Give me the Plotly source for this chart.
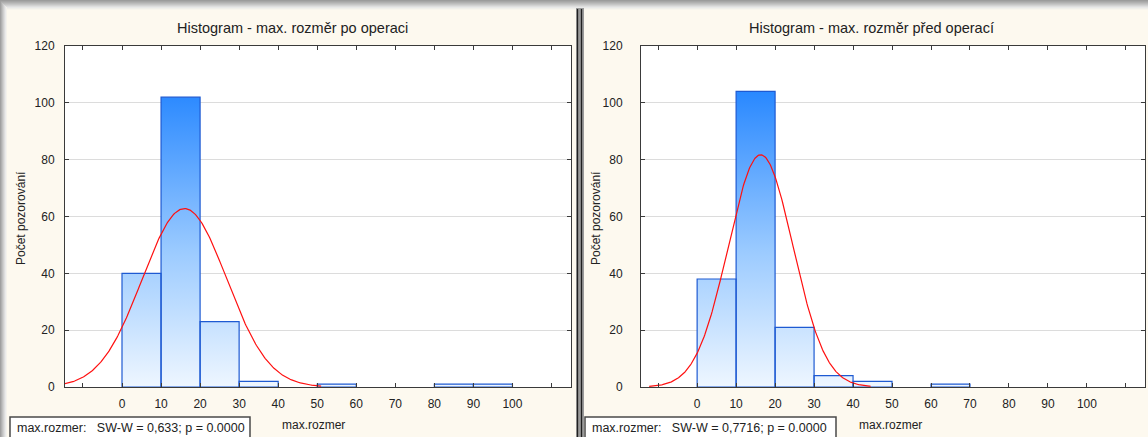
import numpy as np
import plotly.graph_objects as go

W, H = 1148, 437

# histogram data: lower bin edges (bin width 10) and counts
bin_lo = [0, 10, 20, 30, 40, 50, 60, 70, 80, 90]
bin_width = 10
counts_po = [40, 102, 23, 2, 0, 1, 0, 0, 1, 1]      # po operaci
counts_pred = [38, 104, 21, 4, 2, 0, 1, 0, 0, 0]    # před operací

# fitted normal curves (mean, sd) and the x-span over which they are drawn
norm_po = (16.0, 10.8)
norm_pred = (16.3, 8.3)
curve_span_po = (-15.0, 51.0)
curve_span_pred = (-12.3, 44.5)

titles = ["Histogram - max. rozměr po operaci", "Histogram - max. rozměr před operací"]
sw_texts = ["max.rozmer:\u00a0\u00a0\u00a0SW-W = 0,633; p = 0.0000",
            "max.rozmer:\u00a0\u00a0\u00a0SW-W = 0,7716; p = 0.0000"]
y_title = "Počet pozorování"
x_title = "max.rozmer"
x_tickvals = list(range(-10, 120, 10))
x_ticktext = ["" if v < 0 or v > 100 else str(v) for v in x_tickvals]
y_tickvals = list(range(0, 140, 20))

BG = "#FDF9EF"
FONT = "Liberation Sans, Arial, sans-serif"
TXT = "#222222"
BAR_LINE = "#1E5AD2"
GRAD = [[0.0, "#EEF6FF"], [0.45, "#9CCBFF"], [1.0, "#2787FF"]]


def px(x):
    return x / W


def py(y):
    return 1 - y / H


fig = go.Figure()

panels = [
    dict(counts=counts_po, norm=norm_po, span=curve_span_po, xa="x", ya="y"),
    dict(counts=counts_pred, norm=norm_pred, span=curve_span_pred, xa="x2", ya="y2"),
]

for p in panels:
    centers = [lo + bin_width / 2 for lo in bin_lo]
    fig.add_trace(go.Bar(x=centers, y=p["counts"], width=bin_width,
                         marker=dict(color="rgba(0,0,0,0)", line=dict(width=0)),
                         xaxis=p["xa"], yaxis=p["ya"], showlegend=False))
    # gradient-filled bar outlines
    xs, ys = [], []
    for lo, c in zip(bin_lo, p["counts"]):
        if c <= 0:
            continue
        hi = lo + bin_width
        xs += [lo, lo, hi, hi, lo, None]
        ys += [0, c, c, 0, 0, None]
    fig.add_trace(go.Scatter(x=xs, y=ys, mode="lines", fill="toself",
                             fillgradient=dict(type="vertical", colorscale=GRAD,
                                               start=0, stop=105),
                             line=dict(color=BAR_LINE, width=1.2),
                             xaxis=p["xa"], yaxis=p["ya"], showlegend=False,
                             hoverinfo="skip"))
    # expected normal curve
    mu, sd = p["norm"]
    n = sum(p["counts"])
    xc = np.linspace(p["span"][0], p["span"][1], 300)
    yc = n * bin_width / (sd * np.sqrt(2 * np.pi)) * np.exp(-(xc - mu) ** 2 / (2 * sd ** 2))
    fig.add_trace(go.Scatter(x=xc, y=yc, mode="lines",
                             line=dict(color="#FF1010", width=1.2),
                             xaxis=p["xa"], yaxis=p["ya"], showlegend=False))

axis_common = dict(showline=True, linecolor="#3A3A3A", linewidth=1, mirror="ticks",
                   ticks="inside", ticklen=4, tickcolor="#3A3A3A", tickwidth=1,
                   tickfont=dict(family=FONT, size=12, color=TXT), zeroline=False,
                   automargin=False)

ydom = (py(387), py(46))
fig.update_layout(
    width=W, height=H, margin=dict(l=0, r=0, t=0, b=0, autoexpand=False),
    paper_bgcolor=BG, plot_bgcolor="white", bargap=0,
    xaxis=dict(domain=(px(65), px(571)), range=[-14.6, 115.0], anchor="y",
               tickvals=x_tickvals, ticktext=x_ticktext, showgrid=False,
               ticklabelstandoff=6, **axis_common),
    yaxis=dict(domain=ydom, range=[0, 120], anchor="x", tickvals=y_tickvals,
               showgrid=True, gridcolor="#DCDCDC", ticklabelstandoff=7, **axis_common),
    xaxis2=dict(domain=(px(641), px(1145)), range=[-14.4, 114.9], anchor="y2",
                tickvals=x_tickvals, ticktext=x_ticktext, showgrid=False,
                ticklabelstandoff=6, **axis_common),
    yaxis2=dict(domain=ydom, range=[0, 120], anchor="x2", tickvals=y_tickvals,
                showgrid=True, gridcolor="#DCDCDC", ticklabelstandoff=15, **axis_common),
)

shapes = []
# window frame: grey top band and left strip
top_greys = ["#9C9C9C", "#A6A6A6", "#B0B0B0", "#BBBBBB", "#C6C6C6", "#D2D2D2",
             "#DEDEDE", "#E8E8E8", "#F0EFEA", "#F8F5EE"]
for i, c in enumerate(top_greys):
    shapes.append(dict(type="rect", xref="paper", yref="paper", x0=0, x1=1,
                       y0=py(i + 1), y1=py(i), fillcolor=c, line=dict(width=0), layer="below"))
left_greys = ["#A0A0A0", "#B0B0B0", "#C0C0C0", "#CFCFCF", "#DDDDDD", "#EAEAEA", "#F4F2EC"]
for i, c in enumerate(left_greys):
    shapes.append(dict(type="rect", xref="paper", yref="paper", x0=px(i), x1=px(i + 1),
                       y0=0, y1=py(i + 1), fillcolor=c, line=dict(width=0), layer="below"))
# divider between the two windows
shapes.append(dict(type="rect", xref="paper", yref="paper", x0=px(576), x1=px(584),
                   y0=0, y1=py(8), fillcolor="#9A9A9A", line=dict(width=0), layer="below"))
for xl in (577.5, 581.5):
    shapes.append(dict(type="line", xref="paper", yref="paper", x0=px(xl), x1=px(xl),
                       y0=0, y1=py(9), line=dict(color="#202020", width=1.3), layer="below"))
# statistics boxes
for x0, x1 in ((10, 250), (585, 836)):
    shapes.append(dict(type="rect", xref="paper", yref="paper", x0=px(x0), x1=px(x1),
                       y0=py(440), y1=py(417), fillcolor="white",
                       line=dict(color="#4A4A4A", width=1.5)))
fig.update_layout(shapes=shapes)

ann = []
for cx, t in zip((292, 871), titles):
    ann.append(dict(x=px(cx), y=py(28), xref="paper", yref="paper", text=t,
                    xanchor="center", yanchor="middle", showarrow=False,
                    font=dict(family=FONT, size=14.5, color=TXT)))
for cx in (21, 596):
    ann.append(dict(x=px(cx), y=py(218), xref="paper", yref="paper", text=y_title,
                    textangle=-90, xanchor="center", yanchor="middle", showarrow=False,
                    font=dict(family=FONT, size=12, color=TXT)))
for cx in (313, 890):
    ann.append(dict(x=px(cx), y=py(425), xref="paper", yref="paper", text=x_title,
                    xanchor="center", yanchor="middle", showarrow=False,
                    font=dict(family=FONT, size=12, color=TXT)))
for x0, t in zip((15, 590), sw_texts):
    ann.append(dict(x=px(x0), y=py(428), xref="paper", yref="paper", text=t,
                    xanchor="left", yanchor="middle", showarrow=False,
                    font=dict(family=FONT, size=12.5, color=TXT)))
fig.update_layout(annotations=ann)

fig.write_html("out.html")
